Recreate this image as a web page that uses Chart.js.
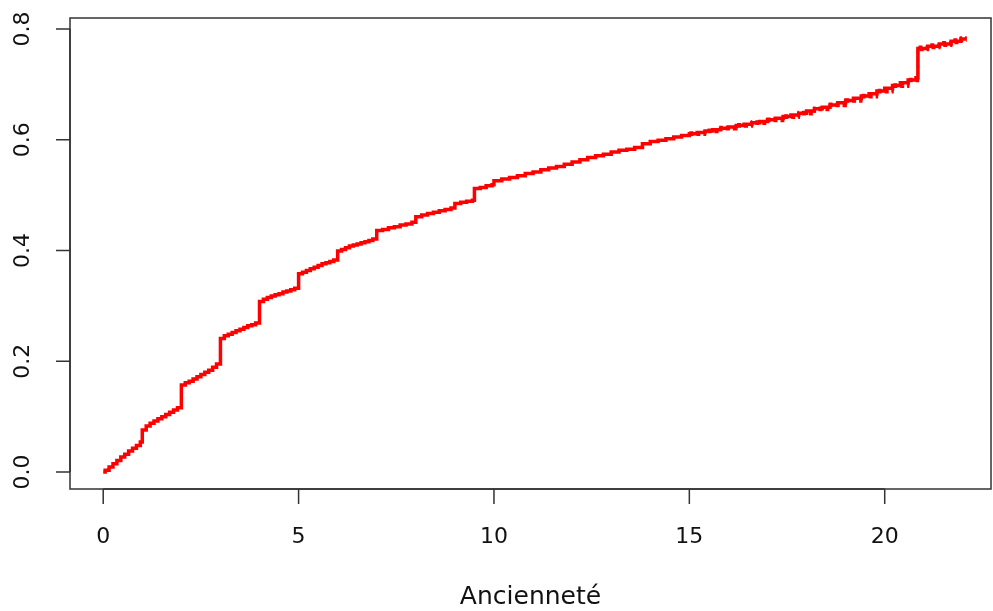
<!DOCTYPE html>
<html>
<head>
<meta charset="utf-8">
<script src="https://cdn.jsdelivr.net/npm/chart.js@4"></script>
<style>
  html, body { margin: 0; padding: 0; background: #fff; }
  #wrap { width: 993px; height: 611px; position: relative; }
</style>
</head>
<body>
<div id="wrap"><canvas id="chart"></canvas></div>
<script>
// Incidence cumulée selon l'ancienneté
const times = [0, 0.05, 0.15, 0.25, 0.35, 0.45, 0.55, 0.65, 0.75, 0.85, 0.95, 1.0,
  1.1, 1.2, 1.3, 1.4, 1.5, 1.6, 1.7, 1.8, 1.9, 2.0,
  2.1, 2.2, 2.3, 2.4, 2.5, 2.6, 2.7, 2.8, 2.9, 3.0,
  3.1, 3.2, 3.3, 3.4, 3.5, 3.6, 3.7, 3.8, 3.9, 4.0,
  4.1, 4.2, 4.3, 4.4, 4.5, 4.6, 4.7, 4.8, 4.9, 5.0,
  5.1, 5.2, 5.3, 5.4, 5.5, 5.6, 5.7, 5.8, 5.9, 6.0,
  6.1, 6.2, 6.3, 6.4, 6.5, 6.6, 6.7, 6.8, 6.9, 7.0,
  7.15, 7.3, 7.45, 7.6, 7.75, 7.9, 8.0,
  8.15, 8.3, 8.45, 8.6, 8.75, 8.9, 9.0,
  9.15, 9.3, 9.45, 9.5, 9.65, 9.8, 9.95, 10.0,
  10.2, 10.4, 10.6, 10.8, 11.0, 11.2, 11.4, 11.6, 11.8, 12.0, 12.2, 12.4, 12.6, 12.8,
  13.0, 13.2, 13.4, 13.6, 13.8, 14.0, 14.2, 14.4, 14.6, 14.8, 15.0,
  15.2, 15.4, 15.6, 15.8, 16.0, 16.2, 16.4, 16.6, 16.8, 17.0, 17.2, 17.4, 17.6, 17.8,
  18.0, 18.2, 18.4, 18.6, 18.8, 19.0, 19.2, 19.4, 19.6, 19.8, 20.0, 20.2, 20.4, 20.6, 20.8,
  20.85, 21.1, 21.4, 21.7, 21.95, 22.1];
const incidence = [0, 0.003, 0.009, 0.015, 0.021, 0.027, 0.032, 0.038, 0.043, 0.048, 0.054, 0.076,
  0.083, 0.088, 0.092, 0.096, 0.100, 0.104, 0.108, 0.112, 0.116, 0.157,
  0.161, 0.164, 0.168, 0.172, 0.176, 0.180, 0.184, 0.189, 0.195, 0.241,
  0.246, 0.249, 0.252, 0.255, 0.258, 0.261, 0.264, 0.266, 0.269, 0.308,
  0.312, 0.315, 0.318, 0.320, 0.322, 0.325, 0.327, 0.329, 0.332, 0.358,
  0.361, 0.364, 0.367, 0.370, 0.373, 0.376, 0.378, 0.380, 0.383, 0.399,
  0.402, 0.405, 0.408, 0.410, 0.412, 0.414, 0.416, 0.418, 0.421, 0.436,
  0.438, 0.441, 0.443, 0.446, 0.448, 0.451, 0.461,
  0.464, 0.467, 0.469, 0.472, 0.474, 0.477, 0.485,
  0.487, 0.489, 0.491, 0.512, 0.514, 0.517, 0.519, 0.526,
  0.529, 0.532, 0.535, 0.539, 0.542, 0.546, 0.549, 0.552, 0.556, 0.560, 0.564, 0.568, 0.571, 0.574,
  0.578, 0.581, 0.583, 0.586, 0.593, 0.597, 0.599, 0.602, 0.605, 0.608, 0.611,
  0.613, 0.616, 0.618, 0.621, 0.623, 0.626, 0.628, 0.631, 0.633, 0.636, 0.639, 0.642, 0.645, 0.648,
  0.652, 0.656, 0.659, 0.663, 0.667, 0.671, 0.675, 0.679, 0.683, 0.688, 0.693, 0.698, 0.703, 0.708, 0.712,
  0.765, 0.769, 0.773, 0.778, 0.782, 0.782];

// intervalle de confiance (pointillés, collés à la courbe, visibles en fin de suivi)
const ciTimes = [15.0, 15.4, 15.8, 16.2, 16.6, 17.0, 17.4, 17.8, 18.2, 18.6, 19.0, 19.4, 19.8, 20.2, 20.6,
  20.85, 21.1, 21.4, 21.7, 21.95, 22.1];
const ciUpper = [0.613, 0.618, 0.623, 0.628, 0.633, 0.638, 0.644, 0.650, 0.658, 0.665, 0.673, 0.681, 0.690, 0.700, 0.710,
  0.768, 0.772, 0.776, 0.781, 0.785, 0.785];
const ciLower = [0.609, 0.614, 0.619, 0.624, 0.629, 0.634, 0.640, 0.646, 0.654, 0.661, 0.669, 0.677, 0.686, 0.696, 0.706,
  0.762, 0.766, 0.770, 0.775, 0.779, 0.779];

const xTicks = [0, 5, 10, 15, 20];
const yTicks = [0, 0.2, 0.4, 0.6, 0.8];
const xTitle = 'Ancienneté';

const toPoints = (xs, ys) => xs.map((x, i) => ({ x: x, y: ys[i] }));

// axes façon R base : cadre + graduations à l'extérieur
const rAxes = {
    id: 'rAxes',
    afterDraw(chart) {
        const { ctx, chartArea: a, scales: { x, y } } = chart;
        ctx.save();
        ctx.strokeStyle = '#333';
        ctx.lineWidth = 1.5;
        ctx.strokeRect(a.left, a.top, a.right - a.left, a.bottom - a.top);

        ctx.fillStyle = '#111';
        ctx.font = '22px "DejaVu Sans"';

        // axe x
        ctx.beginPath();
        ctx.moveTo(x.getPixelForValue(xTicks[0]), a.bottom);
        ctx.lineTo(x.getPixelForValue(xTicks[xTicks.length - 1]), a.bottom);
        xTicks.forEach(t => {
            const px = x.getPixelForValue(t);
            ctx.moveTo(px, a.bottom);
            ctx.lineTo(px, a.bottom + 15);
        });
        ctx.stroke();
        ctx.textAlign = 'center';
        ctx.textBaseline = 'middle';
        xTicks.forEach(t => ctx.fillText(String(t), x.getPixelForValue(t), 537));
        ctx.font = '25px "DejaVu Sans"';
        ctx.fillText(xTitle, (a.left + a.right) / 2, 597);

        // axe y
        ctx.font = '22px "DejaVu Sans"';
        ctx.beginPath();
        ctx.moveTo(a.left, y.getPixelForValue(yTicks[0]));
        ctx.lineTo(a.left, y.getPixelForValue(yTicks[yTicks.length - 1]));
        yTicks.forEach(v => {
            const py = y.getPixelForValue(v);
            ctx.moveTo(a.left - 14, py);
            ctx.lineTo(a.left, py);
        });
        ctx.stroke();
        yTicks.forEach(v => {
            ctx.save();
            ctx.translate(23, y.getPixelForValue(v));
            ctx.rotate(-Math.PI / 2);
            ctx.fillText(v.toFixed(1), 0, 0);
            ctx.restore();
        });
        ctx.restore();
    }
};

new Chart(document.getElementById('chart'), {
    type: 'line',
    data: {
        datasets: [{
            data: toPoints(times, incidence),
            borderColor: '#ff0000',
            borderWidth: 3.5,
            stepped: true,
            pointRadius: 0,
            fill: false
        }, {
            data: toPoints(ciTimes, ciUpper),
            borderColor: '#ff0000',
            borderWidth: 2.5,
            borderDash: [4, 3],
            stepped: true,
            pointRadius: 0,
            fill: false
        }, {
            data: toPoints(ciTimes, ciLower),
            borderColor: '#ff0000',
            borderWidth: 2.5,
            borderDash: [4, 3],
            stepped: true,
            pointRadius: 0,
            fill: false
        }]
    },
    options: {
        responsive: true,
        maintainAspectRatio: false,
        animation: false,
        layout: { padding: { left: 70, right: 2, top: 18, bottom: 122 } },
        plugins: {
            legend: { display: false },
            tooltip: { enabled: false }
        },
        scales: {
            x: { type: 'linear', min: -0.85, max: 22.72, display: false },
            y: { type: 'linear', min: -0.0307, max: 0.82, display: false }
        }
    },
    plugins: [rAxes]
});
</script>
</body>
</html>
